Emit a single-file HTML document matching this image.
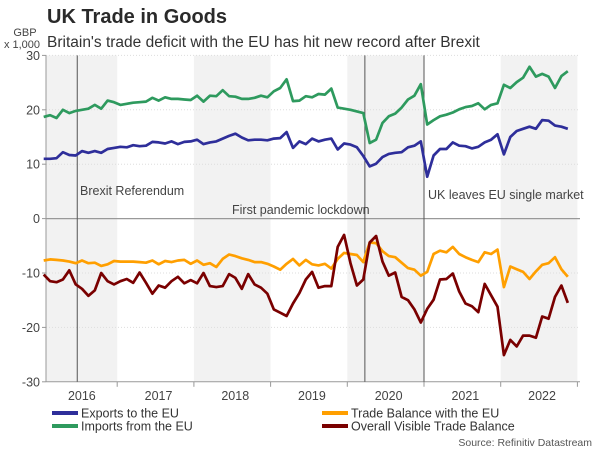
<!DOCTYPE html>
<html><head><meta charset="utf-8"><style>
body{margin:0;background:#fff;font-family:"Liberation Sans",sans-serif}
svg{display:block}
</style></head><body>
<svg id="chart" width="600" height="450" viewBox="0 0 600 450">
<text x="47" y="23" font-size="20" font-weight="bold" fill="#2a2a2a">UK Trade in Goods</text>
<text x="47" y="47" font-size="15.5" fill="#333">Britain's trade deficit with the EU has hit new record after Brexit</text>
<text x="25" y="36" font-size="11" fill="#444" text-anchor="middle">GBP</text>
<text x="22" y="48" font-size="11" fill="#444" text-anchor="middle">x 1,000</text>
<g id="bands"></g><g id="grid"></g><g id="axes"></g><g id="events"></g><g id="series"></g>
<g font-size="12.5" fill="#333">
<line x1="52" y1="413" x2="78" y2="413" stroke="#2e2e9a" stroke-width="4"/>
<text x="81" y="417.5">Exports to the EU</text>
<line x1="52" y1="426" x2="78" y2="426" stroke="#2e9a5e" stroke-width="4"/>
<text x="81" y="430.5">Imports from the EU</text>
<line x1="322" y1="413" x2="348" y2="413" stroke="#ff9f00" stroke-width="4"/>
<text x="351" y="417.5">Trade Balance with the EU</text>
<line x1="322" y1="426" x2="348" y2="426" stroke="#7a0000" stroke-width="4"/>
<text x="351" y="430.5">Overall Visible Trade Balance</text>
</g>
<text x="592" y="446" font-size="10.5" fill="#555" text-anchor="end">Source: Refinitiv Datastream</text>
</svg>
<script>
const years = ["2016","2017","2018","2019","2020","2021","2022"];
const yTicks = [30,20,10,0,-10,-20,-30];
const exportsEU = [11,11,11.1,12.2,11.7,11.6,12.4,12.1,12.4,12.1,12.8,13,13.2,13.1,13.5,13.3,13.4,14.1,14,13.8,14.2,13.7,14.1,14.2,14.5,13.7,14,14.2,14.7,15.2,15.6,14.9,14.4,14.5,14.5,14.4,14.7,14.8,15.9,13,14.2,13.7,14.7,14.2,14.5,14.7,12.7,13.8,13.6,13.1,11.5,9.6,10.1,11.3,11.9,12.1,12.2,13.1,13.4,14.2,7.7,11.6,12.8,12.8,14,13.4,13.3,12.9,13.2,14,14.5,15.5,11.8,15,16.1,16.5,16.9,16.5,18.1,18,17.1,16.9,16.5];
const importsEU = [18.7,19,18.5,20,19.4,19.8,20,20.2,20.9,20.2,21.7,21.4,20.9,21.1,21.3,21.4,21.5,22.2,21.7,22.3,22,22,21.9,21.8,22.6,21.5,22.6,22.5,23.6,22.5,22.4,22,22,22.2,22.6,22.3,23.4,24,25.6,21.6,21.7,22.5,22.3,22.9,22.8,23.9,20.4,20.2,20,19.7,19.4,13.9,14.5,17.6,18.8,19.3,20.4,21.9,22.6,24.7,17.3,18.1,18.8,19.1,19.5,20.1,20.5,20.7,21.2,20.1,20.9,21.2,24.6,24,25.1,25.9,27.9,26.1,26.6,26.1,24,26.2,27.1];
const balanceEU = [-7.7,-7.5,-7.6,-7.7,-7.9,-8.2,-7.7,-8.2,-8.1,-8.7,-8.4,-7.8,-7.9,-7.9,-7.9,-8,-8.1,-7.7,-8.4,-7.8,-8,-7.7,-7.6,-8.3,-7.7,-8.5,-8.2,-8.9,-7.4,-6.6,-6.9,-7.3,-7.6,-8,-8,-8.3,-8.8,-9.4,-8.3,-7.4,-8.6,-7.6,-8.4,-8.6,-8.3,-9.2,-7.4,-6.3,-6.5,-6.7,-8,-4.4,-4.5,-6,-6.9,-7.1,-8.1,-9.1,-9.4,-10.5,-9.8,-6.5,-5.9,-6.2,-5.2,-6.5,-7.1,-7.6,-8,-6.2,-6.5,-5.7,-12.6,-8.8,-9.3,-9.8,-11.1,-9.7,-8.5,-8.2,-7.1,-9.3,-10.7];
const balanceTotal = [-10.3,-11.5,-11.7,-11.2,-9.5,-12.1,-12.9,-14.2,-13.2,-10,-11.5,-12.1,-11.5,-11.1,-11.8,-9.9,-11.8,-13.8,-12.3,-12.7,-11.5,-10.7,-11.9,-11.3,-11.9,-10,-12.4,-12.6,-12.4,-10.2,-10.9,-12.9,-10.2,-12.1,-12.7,-13.8,-16.7,-17.3,-17.9,-15.6,-13.7,-11.2,-9.8,-12.7,-12.4,-12.4,-5.2,-3,-8.2,-12.3,-11.2,-4.4,-3.2,-7.9,-10.5,-9.9,-14.4,-15,-16.7,-19.1,-16.6,-14.9,-11.2,-11.1,-10.1,-13.4,-15.6,-16.1,-17.2,-12,-14.1,-16.2,-25.1,-22.3,-23.5,-21.5,-21.5,-21.9,-18,-18.4,-14.4,-12.3,-15.5];
const eventLabels = ["Brexit Referendum","First pandemic lockdown","UK leaves EU single market"];
const eventMonths = [5.75,50.75,60];

const NS="http://www.w3.org/2000/svg";
const X0=40.5, MW=76.7/12, LEFT=46, RIGHT=580;
const xM = m => X0 + m*MW;
const xPt = i => X0 + (i+0.5)*MW;
const yV = v => 218.6 - v*5.44;
function mk(tag, parent, attrs){const e=document.createElementNS(NS,tag);for(const k in attrs)e.setAttribute(k,attrs[k]);parent.appendChild(e);return e;}
const bands=document.getElementById('bands'),grid=document.getElementById('grid'),axes=document.getElementById('axes'),events=document.getElementById('events'),series=document.getElementById('series');

years.forEach((y,i)=>{
  const x1=Math.max(LEFT,xM(i*12)), x2=xM((i+1)*12);
  if(i%2===0){
    const r=mk('rect',bands,{x:x1,y:yV(30),width:x2-x1,height:yV(-30)-yV(30),fill:'#f2f2f2'});
    
    
  }
  const t=mk('text',axes,{x:(xM(i*12)+x2)/2+3,y:400,'font-size':12.5,fill:'#444','text-anchor':'middle'});
  t.textContent=y;
  
  
  if(i>0){const tk=mk('line',axes,{x1:xM(i*12),x2:xM(i*12),y1:yV(-30),y2:yV(-30)+5,stroke:'#999'});
    
    }
});
const lastTk=mk('line',axes,{x1:xM(84),x2:xM(84),y1:yV(-30),y2:yV(-30)+5,stroke:'#999'});



yTicks.forEach(v=>{
  const y=yV(v);
  if(v!==0 && v!==-30){const g=mk('line',grid,{x1:LEFT,x2:RIGHT,y1:y,y2:y,stroke:'#ddd','stroke-dasharray':'1,2'});
    
    }
  const tk=mk('line',axes,{x1:LEFT-4,x2:LEFT,y1:y,y2:y,stroke:'#999'});
  
  
  const t=mk('text',axes,{x:LEFT-6,y:y+4.5,'font-size':12.5,fill:'#444','text-anchor':'end'});
  t.textContent=v;
  
  
});
const zl=mk('line',axes,{x1:LEFT,x2:RIGHT,y1:yV(0),y2:yV(0),stroke:'#999','stroke-width':1.2});


const bl=mk('line',axes,{x1:LEFT,x2:RIGHT,y1:yV(-30),y2:yV(-30),stroke:'#999'});


const yl=mk('line',axes,{x1:LEFT,x2:LEFT,y1:yV(30),y2:yV(-30),stroke:'#999'});



const evPos=[[80,195],[232,214],[428,199]];
eventMonths.forEach((m,i)=>{
  const x=xM(m);
  const l=mk('line',events,{x1:x,x2:x,y1:yV(30),y2:yV(-30),stroke:'#555','stroke-width':1});
  
  
  const t=mk('text',events,{x:evPos[i][0],y:evPos[i][1],'font-size':12.5,fill:'#444'});
  t.textContent=eventLabels[i];
  
  
});

function line(data,color,name){
  const d=data.map((v,i)=>(i?'L':'M')+xPt(i).toFixed(1)+','+yV(v).toFixed(1)).join(' ');
  const p=mk('path',series,{d:d,fill:'none',stroke:color,'stroke-width':2.7,'stroke-linejoin':'round'});
  
  
}
line(importsEU,'#2e9a5e','imports-line');
line(exportsEU,'#2e2e9a','exports-line');
line(balanceEU,'#ff9f00','eu-balance-line');
line(balanceTotal,'#7a0000','overall-balance-line');
</script>
</body></html>
